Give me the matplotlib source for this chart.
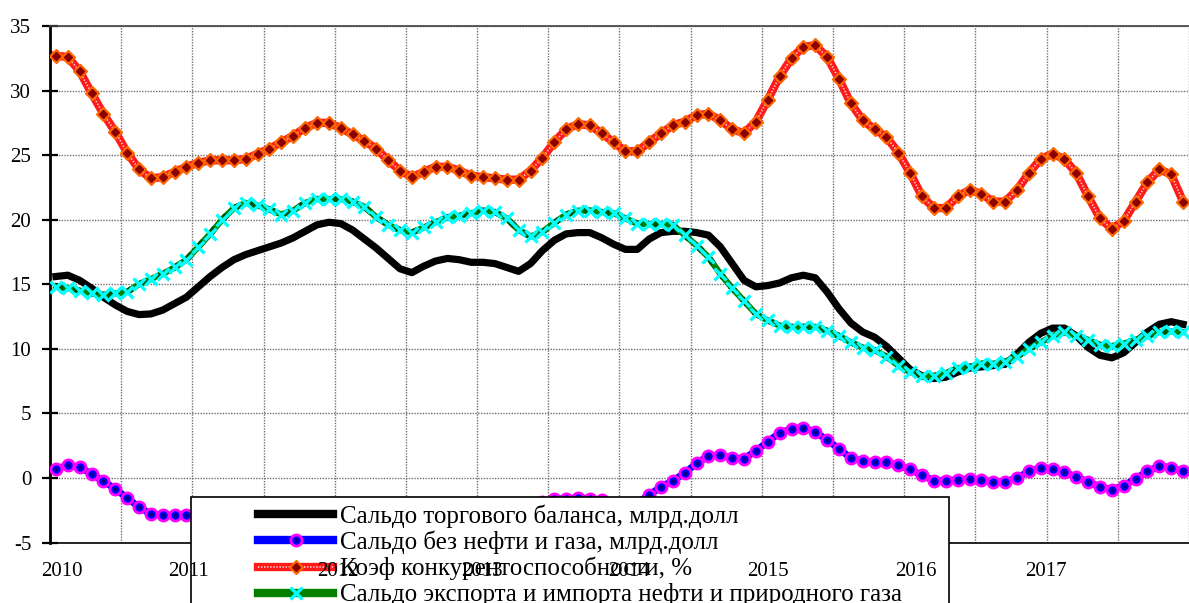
import matplotlib
matplotlib.use('Agg')
import matplotlib.pyplot as plt
import matplotlib.transforms as mtransforms
from matplotlib.lines import Line2D
from matplotlib.patches import Rectangle

# monthly values, Jan 2010 .. Dec 2017
saldo = [15.6, 15.7, 15.3, 14.7, 14.0, 13.4, 12.9, 12.65, 12.7, 13.0,
         13.5, 14.0, 14.8, 15.6, 16.3, 16.9, 17.3, 17.6, 17.9, 18.2,
         18.6, 19.1, 19.6, 19.8, 19.7, 19.2, 18.5, 17.8, 17.0, 16.2,
         15.9, 16.4, 16.8, 17.0, 16.9, 16.7, 16.7, 16.6, 16.3, 16.0,
         16.6, 17.6, 18.4, 18.9, 19.0, 19.0, 18.6, 18.1, 17.7, 17.7,
         18.5, 19.0, 19.1, 19.1, 19.0, 18.8, 17.9, 16.6, 15.3, 14.8,
         14.9, 15.1, 15.5, 15.7, 15.5, 14.4, 13.1, 12.0, 11.3, 10.9,
         10.2, 9.3, 8.4, 7.9, 7.7, 7.8, 8.2, 8.5, 8.6, 8.7,
         8.8, 9.6, 10.5, 11.2, 11.6, 11.6, 11.0, 10.1, 9.5, 9.3,
         9.7, 10.5, 11.3, 11.9, 12.1, 11.9]

bez_nefti = [0.7, 0.97, 0.85, 0.3, -0.25, -0.85, -1.55, -2.25, -2.8, -2.9,
             -2.9, -2.9, -2.9, -2.9, -2.8, -2.6, -2.5, -2.6, -2.8, -3.0,
             -3.1, -3.0, -2.8, -2.6, -2.5, -2.6, -2.8, -3.0, -3.2, -3.3,
             -3.2, -3.0, -2.9, -2.9, -3.0, -3.1, -3.1, -3.0, -2.8, -2.6,
             -2.3, -1.9, -1.65, -1.6, -1.55, -1.6, -1.7, -2.0, -2.15, -1.95,
             -1.3, -0.7, -0.2, 0.37, 1.15, 1.7, 1.75, 1.55, 1.5, 2.1,
             2.8, 3.5, 3.8, 3.9, 3.55, 2.95, 2.25, 1.55, 1.3, 1.2,
             1.2, 0.97, 0.66, 0.2, -0.2, -0.2, -0.15, -0.07, -0.15, -0.3,
             -0.3, 0.0, 0.5, 0.8, 0.66, 0.45, 0.07, -0.3, -0.7, -0.9,
             -0.6, -0.07, 0.53, 0.9, 0.8, 0.5]

koef = [32.7, 32.6, 31.5, 29.8, 28.2, 26.8, 25.2, 23.9, 23.2, 23.3,
        23.7, 24.1, 24.4, 24.6, 24.6, 24.6, 24.7, 25.1, 25.5, 26.0,
        26.5, 27.1, 27.5, 27.5, 27.1, 26.6, 26.1, 25.5, 24.6, 23.8,
        23.3, 23.7, 24.1, 24.1, 23.8, 23.4, 23.3, 23.2, 23.1, 23.1,
        23.8, 24.8, 26.0, 27.0, 27.4, 27.3, 26.7, 26.0, 25.3, 25.3,
        26.0, 26.7, 27.3, 27.6, 28.1, 28.2, 27.7, 27.0, 26.7, 27.6,
        29.3, 31.1, 32.5, 33.4, 33.5, 32.6, 30.9, 29.0, 27.7, 27.0,
        26.4, 25.2, 23.6, 21.8, 20.9, 20.9, 21.8, 22.3, 22.0, 21.4,
        21.4, 22.3, 23.6, 24.7, 25.1, 24.7, 23.6, 21.8, 20.1, 19.3,
        19.9, 21.4, 22.9, 23.9, 23.5, 21.4]

neft_gaz = [14.8, 14.7, 14.5, 14.3, 14.2, 14.3, 14.4, 15.0, 15.4, 15.8,
            16.3, 16.9, 17.9, 18.9, 20.0, 20.9, 21.3, 21.1, 20.8, 20.4,
            20.7, 21.3, 21.6, 21.6, 21.6, 21.4, 21.0, 20.2, 19.6, 19.2,
            19.0, 19.4, 19.8, 20.2, 20.3, 20.5, 20.7, 20.6, 20.1, 19.2,
            18.7, 19.05, 19.75, 20.4, 20.7, 20.7, 20.6, 20.5, 20.1, 19.7,
            19.65, 19.65, 19.6, 18.8, 18.0, 17.1, 15.8, 14.7, 13.7, 12.7,
            12.2, 11.8, 11.7, 11.7, 11.7, 11.4, 11.0, 10.5, 10.1, 9.9,
            9.4, 8.7, 8.2, 7.9, 7.9, 8.1, 8.5, 8.6, 8.85, 8.85,
            9.0, 9.4, 10.0, 10.5, 11.0, 11.3, 11.0, 10.7, 10.3, 10.2,
            10.4, 10.7, 11.0, 11.3, 11.35, 11.3]

years = ['2010', '2011', '2012', '2013', '2014', '2015', '2016', '2017']
year_pos = [0.5, 11.2, 23.8, 35.9, 48.3, 60.0, 72.5, 83.4]

labels = ['Сальдо торгового баланса, млрд.долл',
          'Сальдо без нефти и газа, млрд.долл',
          'Коэф конкурентоспособности, %',
          'Сальдо экспорта и импорта нефти и природного газа']

plt.rcParams['font.family'] = ['Liberation Serif', 'DejaVu Serif']
plt.rcParams['axes.unicode_minus'] = False

W, H = 1189, 603
fig = plt.figure(figsize=(W / 100, H / 100), dpi=100)
ax = fig.add_axes([50 / W, 60.5 / H, 1139 / W, 516.5 / H])

x = list(range(len(saldo)))

ax.plot(x, saldo, color='black', lw=5.2, solid_joinstyle='round', zorder=3)

ax.plot(x, bez_nefti, color='#0000ff', lw=5, zorder=4)
ax.plot(x, bez_nefti, ls='none', marker='o', ms=8, mfc='#0000ff', mec='#ff00ff', mew=2, zorder=4)
ax.plot(x, bez_nefti, ls='none', marker='o', ms=2, color='#000080', zorder=4)

ax.plot(x, koef, color='#ff1a1a', lw=6, zorder=5)
ax.plot(x, koef, color='white', lw=1.3, ls=(0, (0.7, 1.0)), alpha=0.8, zorder=5)
ax.plot(x, koef, ls='none', marker='D', ms=7.5, color='#ff6600', zorder=5)
ax.plot(x, koef, ls='none', marker='D', ms=3.8, color='#8b0000', zorder=5)

ax.plot(x, neft_gaz, color='#008000', lw=4.5, zorder=6)
ax.plot(x, neft_gaz, color='#005500', lw=4.5, ls=(0, (1.2, 1.6)), zorder=6)
ax.plot(x, neft_gaz, ls='none', marker='x', ms=8, mew=2.4, color='#00ffff', zorder=6)

ax.set_xlim(-0.5, -0.5 + 1139 / 11.95)
ax.set_ylim(-5, 35)
ax.set_yticks(range(-5, 36, 5))
ax.set_xticks([-0.5 + 6 * k for k in range(17)])
ax.set_xticklabels([])
ax.tick_params(axis='x', length=0)
ax.tick_params(axis='y', direction='inout', length=11, width=1.6, labelsize=15, pad=8)
ax.grid(True, color='#707070', ls=(0, (1, 1)), lw=1.0)
ax.set_axisbelow(True)

ax.spines['right'].set_visible(False)
ax.spines['left'].set_linewidth(2)
ax.spines['top'].set_linewidth(1.2)
ax.spines['top'].set_color('#404040')
ax.spines['bottom'].set_linewidth(1.2)

box = Rectangle((191 / W, -0.05), (949 - 191) / W, (603 - 497) / H + 0.05,
                transform=fig.transFigure, facecolor='white', edgecolor='black', lw=1.2, zorder=1)
fig.add_artist(box)

h_black = Line2D([], [], color='black', lw=6)
h_blue = (Line2D([], [], color='#0000ff', lw=6),
          Line2D([], [], ls='none', marker='o', ms=8, mfc='#0000ff', mec='#ff00ff', mew=2),
          Line2D([], [], ls='none', marker='o', ms=2, color='#000080'))
h_red = (Line2D([], [], color='#ff1a1a', lw=6),
         Line2D([], [], color='white', lw=1.3, ls=(0, (0.7, 1.0)), alpha=0.8),
         Line2D([], [], ls='none', marker='D', ms=7.5, color='#ff6600'),
         Line2D([], [], ls='none', marker='D', ms=3.8, color='#8b0000'))
h_green = (Line2D([], [], color='#008000', lw=6),
           Line2D([], [], ls='none', marker='x', ms=8, mew=2.4, color='#00ffff'))

leg = fig.legend([h_black, h_blue, h_red, h_green], labels, loc='upper left',
                 bbox_to_anchor=(258 / W, (603 - 504) / H), frameon=False,
                 borderpad=0, borderaxespad=0, handlelength=3.0, handletextpad=0.3,
                 labelspacing=0.12, fontsize=18, numpoints=1)
leg.set_zorder(2)

tr = mtransforms.blended_transform_factory(ax.transData, fig.transFigure)
for pos, yr in zip(year_pos, years):
    fig.text(pos, (603 - 571) / H, yr, transform=tr, ha='center', va='center', fontsize=15, zorder=3)

fig.savefig('out.png', dpi=100)
